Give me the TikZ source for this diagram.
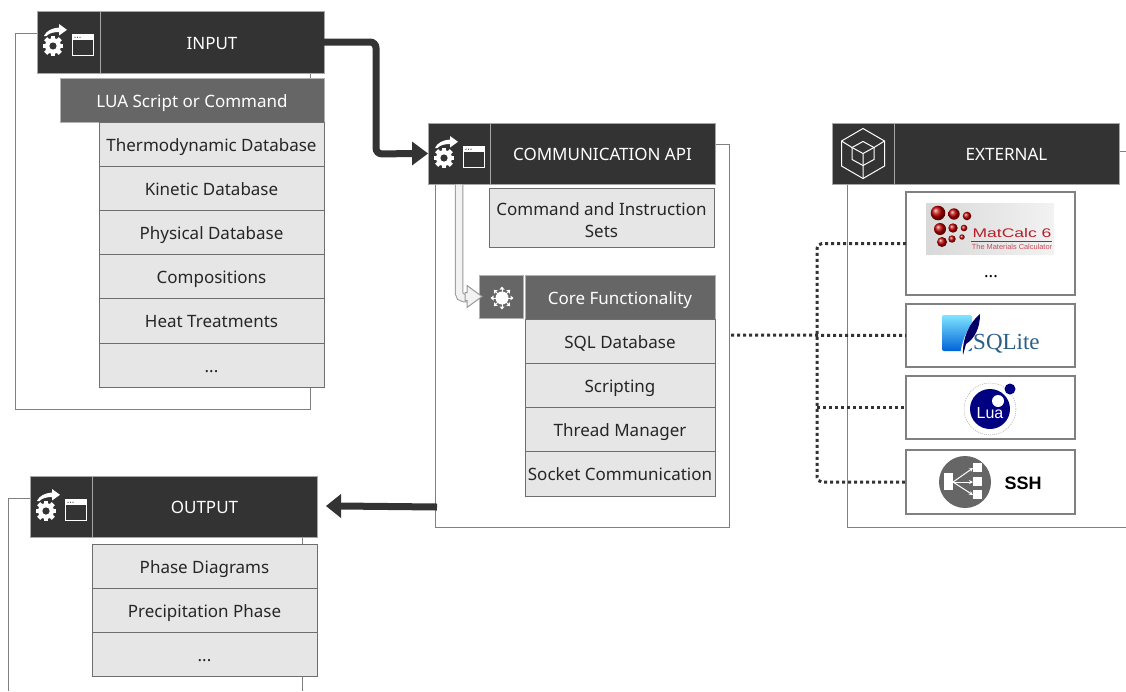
\documentclass[tikz,border=0pt]{standalone}
\usepackage{fontspec}
\setmainfont{Noto Sans}
\newfontfamily\arialf{Liberation Sans}
\newfontfamily\serf{Liberation Serif}
\usetikzlibrary{arrows.meta,backgrounds,calc}
\definecolor{dk}{HTML}{333333}
\definecolor{md}{HTML}{666666}
\definecolor{lt}{HTML}{E6E6E6}
\definecolor{bd}{HTML}{6E6E6E}
\definecolor{fr}{HTML}{808080}
\definecolor{ink}{HTML}{262626}
\definecolor{matred}{HTML}{B5202A}
\definecolor{sqltext}{HTML}{2B5F85}
\tikzset{
 x=1pt,y=-1pt,
 base/.style={inner sep=0,outer sep=0,align=center,font=\fontsize{17}{22}\selectfont},
 head/.style={base,fill=dk,draw=gray!70,line width=.8pt,text=white},
 mid/.style={base,fill=md,draw=gray!60,line width=.6pt,text=white},
 item/.style={base,fill=lt,draw=bd,line width=1pt,text=ink},
 ext/.style={base,fill=white,draw=fr,line width=1.1pt,text=ink},
 frame/.style={draw=fr,line width=.9pt},
 flow/.style={draw=dk,line width=7pt,rounded corners=6pt},
 flowtip/.style={fill=dk,draw=none},
 dots/.style={draw=dk,line width=3pt,dash pattern=on 3pt off 3pt,rounded corners=5pt},
 appicon/.pic={
   \foreach \a in {0,45,...,315}{
     \fill[white,rotate around={\a:(16,35)}] (13.8,24.6) rectangle (18.2,30);
   }
   \fill[white] (16,35) circle (8);
   \fill[dk] (16,35) circle (3.6);
   \fill[white] (7,25) .. controls (9,20) and (15,17) .. (22,16.5) -- (22,13) -- (30,18.8) -- (22,24.5) -- (22,21) .. controls (17,21) and (12,22) .. (9.5,25) -- cycle;
   \draw[white,line width=1.6pt] (35.5,24) rectangle (56.5,44.5);
   \fill[white] (35.5,24) rectangle (56.5,28.5);
   \foreach \d in {38,40.5,43}{\fill[dk] (\d,26.2) circle (.7);}
 },
 coreicon/.pic={
   \fill[white] (0,0) circle (6.5);
   \foreach \a in {0,45,...,315}{
     \begin{scope}[rotate=\a]
       \draw[white,line width=1pt] (6,0) -- (9,0);
       \fill[white] (11.5,0) -- (8.5,-2.5) -- (8.5,2.5) -- cycle;
     \end{scope}
   }
 },
 cubeicon/.pic={
   \draw[white,line width=1pt] (0,-25) -- (21.5,-12.5) -- (21.5,12.5) -- (0,25) -- (-21.5,12.5) -- (-21.5,-12.5) -- cycle;
   \draw[white,line width=1pt] (0,-12) -- (11,-6) -- (11,6) -- (0,12) -- (-11,6) -- (-11,-6) -- cycle;
   \draw[white,line width=1pt] (-11,-6) -- (0,0) -- (11,-6) (0,0) -- (0,12);
   \draw[white,line width=1pt] (-21.5,-12.5) -- (-11,-6) (21.5,-12.5) -- (11,-6) (0,25) -- (0,12);
 }
}
\newcommand{\bxraw}[7]{\node[#6,minimum width={(#4-#2)*1pt},minimum height={(#5-#3)*1pt}] (#1) at ({(#2+#4)/2},{(#3+#5)/2}) {#7};}
\newcommand{\bx}[7]{\bxraw{#1}{#2}{#3}{#4}{#5}{#6}{\raisebox{0pt}[14pt][0pt]{#7}}}
\begin{document}
\begin{tikzpicture}
\useasboundingbox (0,0) rectangle (1126,691);
% INPUT
\bx{inIcon}{37}{11}{100}{73}{head}{}
\bx{inHead}{100}{11}{324}{73}{head}{INPUT}
\pic at (37,11) {appicon};
\bx{inLua}{60}{78}{324}{122}{mid}{LUA Script or Command}
\bx{inA}{99}{122}{324}{166}{item}{Thermodynamic Database}
\bx{inB}{99}{166}{324}{210}{item}{Kinetic Database}
\bx{inC}{99}{210}{324}{254}{item}{Physical Database}
\bx{inD}{99}{254}{324}{298}{item}{Compositions}
\bx{inE}{99}{298}{324}{343}{item}{Heat Treatments}
\bx{inF}{99}{343}{324}{387}{item}{...}
% API
\bx{apiIcon}{428}{123}{490}{184}{head}{}
\bx{apiHead}{490}{123}{715}{184}{head}{COMMUNICATION API}
\pic at (428,123) {appicon};
\bxraw{apiCmd}{489}{188}{714}{247}{item}{\rule{0pt}{19pt}Command and Instruction\\[0pt]Sets}
\bx{coreIcon}{479}{275}{523}{318}{mid}{}
\pic at (502,298) {coreicon};
\bx{coreHead}{525}{275}{715}{319}{mid}{Core Functionality}
\bx{coreA}{525}{319}{715}{363}{item}{SQL Database}
\bx{coreB}{525}{363}{715}{407}{item}{Scripting}
\bx{coreC}{525}{407}{715}{451}{item}{Thread Manager}
\bx{coreD}{525}{451}{715}{496}{item}{Socket Communication}
% OUTPUT
\bx{outIcon}{30}{476}{92}{537}{head}{}
\bx{outHead}{92}{476}{317}{537}{head}{OUTPUT}
\pic at (30,476) {appicon};
\bx{outA}{92}{544}{317}{588}{item}{Phase Diagrams}
\bx{outB}{92}{588}{317}{632}{item}{Precipitation Phase}
\bx{outC}{92}{632}{317}{676}{item}{...}
% EXTERNAL
\bx{extIcon}{832}{123}{894}{184}{head}{}
\bx{extHead}{894}{123}{1119}{184}{head}{EXTERNAL}
\pic at (863,153.5) {cubeicon};
\bx{extM}{906}{192}{1075}{295}{ext}{}
\bx{extS}{906}{304}{1075}{367}{ext}{}
\bx{extL}{906}{376}{1075}{439}{ext}{}
\bx{extH}{906}{450}{1075}{514}{ext}{}
% MatCalc logo
\shade[left color=gray!30,right color=gray!10] (926,203) rectangle (1054,254);
\foreach \cx/\cy/\r in {938/213/7.3,954/214/5.7,967/216/4.3,940/229/6,953/228/4.7,964/228/3.3,942/242/5,952/239/3.7,962/237/2.7}{
  \shade[ball color=red!75!black] (\cx,\cy) circle (\r);
}
\node[inner sep=0,text=matred,font=\arialf\fontsize{12.5}{13}\selectfont] (mcName) at (1012,233.5) {\scalebox{1.4}[1]{MatCalc 6}};
\draw[matred,line width=.5pt] (971,241) -- (1052,241);
\node[inner sep=0,text=matred!80,font=\arialf\fontsize{7.4}{8}\selectfont] (mcSub) at (1012,246.5) {The Materials Calculator};
\node[base] (mcDots) at (991,270) {\raisebox{0pt}[14pt][0pt]{...}};
% SQLite logo
\shade[top color=blue!20!cyan!50!white,bottom color=blue!55!cyan!85!black,rounded corners=2pt] (942,315) rectangle (972,351);
\fill[white] (960,358) .. controls (961,340) and (969,324) .. (981,313) -- (977,343) -- cycle;
\fill[black!60!blue] (963,355) .. controls (962,338) and (970,322) .. (980,314) .. controls (980,328) and (975,338) .. (966,344) -- cycle;
\node[inner sep=0,text=sqltext,font=\serf\fontsize{23}{23}\selectfont,anchor=west] (sqlName) at (973,344) {SQLite};
% Lua logo
\draw[gray!70,line width=.5pt,dash pattern=on 1pt off 1pt] (990,409) circle (26);
\fill[blue!50!black] (990,409) circle (20);
\fill[white] (998,401) circle (6);
\fill[blue!50!black] (1010,389) circle (5.5);
\node[inner sep=0,text=white,font=\arialf\fontsize{16}{16}\selectfont] (luaName) at (990,413) {Lua};
% SSH logo
\fill[md] (965,482) circle (26);
\fill[white] (943.5,473) rectangle (953,490);
\fill[white] (973,463) rectangle (982,472);
\fill[white] (973,477) rectangle (982,486);
\fill[white] (973,490) rectangle (982,499);
\draw[white,line width=1pt,-{Stealth[length=4pt,width=4pt]}] (953,482) -- (973,468);
\draw[white,line width=1pt,-{Stealth[length=4pt,width=4pt]}] (953,482) -- (973,482);
\draw[white,line width=1pt,-{Stealth[length=4pt,width=4pt]}] (953,482) -- (973,495);
\node[inner sep=0,text=black,font=\arialf\bfseries\fontsize{18}{18}\selectfont] (sshName) at (1023,483) {SSH};
% frames
\begin{scope}[on background layer]
\draw[frame] ([yshift=-22pt]inIcon.north west) -- (15,33) -- (15,409) -- (310,409) -- (310,387);
\draw[frame] (310,73) -- (310,78);
\draw[frame] ([yshift=-21pt]apiHead.north east) -- (729,144) -- (729,527) -- (435,527) -- (435,184);
\draw[frame] ([yshift=-22pt]outIcon.north west) -- (8,498) -- (8,691);
\draw[frame] (302,537) -- (302,544);
\draw[frame] (302,676) -- (302,691);
\draw[frame] ([yshift=-28pt]extHead.north east) -- (1126,151);
\draw[frame] (847,184) -- (847,527) -- (1126,527);
\end{scope}
% connectors
\coordinate (inOut) at (inHead.east |- 0,42);
\coordinate (apiIn) at (apiIcon.west);
\draw[flow] (inOut) -- (376,42) -- (376,154) -- ($(apiIn)+(-12,0)$);
\fill[flowtip] (apiIn) -- ++(-16,-12) -- ++(0,24) -- cycle;
\coordinate (apiOut) at (437,507);
\coordinate (outIn) at (326,506);
\draw[flow] (apiOut) -- ($(outIn)+(14,0)$);
\fill[flowtip] (outIn) -- ++(15,-12) -- ++(0,24) -- cycle;
% light arrow
\coordinate (apiDown) at (459,184.5);
\draw[draw=gray!80,double=gray!10,line width=1pt,double distance=6.5pt,rounded corners=5pt] (apiDown) -- (459,298) -- (469,298);
\fill[gray!10,draw=gray!80,line width=1pt] ([xshift=3pt]coreIcon.west) -- ++(-15,-11) -- ++(0,7) -- ++(-2,0) -- ++(0,8) -- ++(2,0) -- ++(0,7) -- cycle;
% dotted
\coordinate (coreOut) at (731,335);
\draw[dots] (coreOut) -- (extS.west);
\draw[dots] (extM.west) -- (817,243.5) -- (817,482) -- (extH.west);
\draw[dots] (817,407.5) -- (extL.west);
\end{tikzpicture}
\end{document}
